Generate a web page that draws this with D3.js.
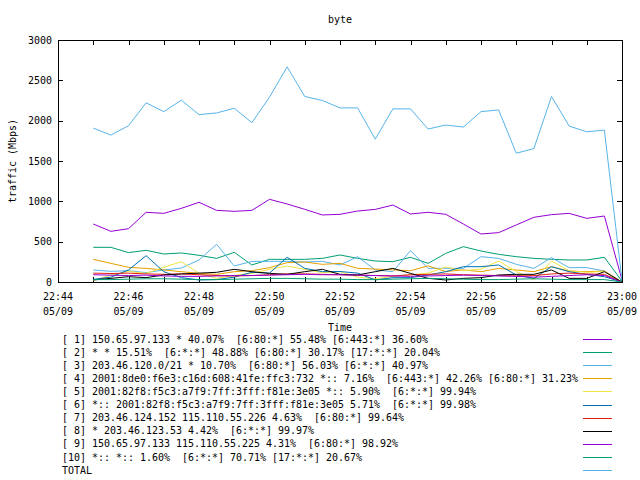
<!DOCTYPE html>
<html><head><meta charset="utf-8">
<script src="https://cdn.jsdelivr.net/npm/d3@7"></script>
<style>
body{margin:0;background:#fff;}
text{font-family:"DejaVu Sans Mono","Liberation Mono",monospace;font-size:10.4px;fill:#000;white-space:pre;}
</style></head><body>
<svg id="c" width="640" height="480"></svg>
<script>
const times = ["22:45:00","22:45:30","22:46:00","22:46:30","22:47:00","22:47:30","22:48:00","22:48:30",
"22:49:00","22:49:30","22:50:00","22:50:30","22:51:00","22:51:30","22:52:00","22:52:30","22:53:00",
"22:53:30","22:54:00","22:54:30","22:55:00","22:55:30","22:56:00","22:56:30","22:57:00","22:57:30",
"22:58:00","22:58:30","22:59:00","22:59:30","23:00:00"];
const xTickLabels = ["22:44","22:46","22:48","22:50","22:52","22:54","22:56","22:58","23:00"];
const xTickMinutes = ["22:44","22:45","22:46","22:47","22:48","22:49","22:50","22:51","22:52","22:53","22:54","22:55","22:56","22:57","22:58","22:59","23:00"];
const dateLabel = "05/09";
const yTicks = [0,500,1000,1500,2000,2500,3000];

const s1 = [719,628,661,864,851,913,988,888,876,888,1025,967,901,831,839,880,900,954,843,864,839,719,595,612,707,802,835,851,789,818,24];
const s2 = [430,430,364,393,347,360,331,293,368,211,281,281,281,293,335,293,260,252,306,231,355,438,384,343,314,293,281,273,273,306,10];
const s3 = [149,132,140,116,149,173,273,467,198,256,256,256,248,256,211,314,149,128,388,169,169,169,314,293,219,169,302,178,178,136,0];
const s4 = [281,231,182,169,149,128,107,95,128,140,178,240,248,219,231,170,160,150,140,200,130,150,128,169,149,128,190,136,128,136,0];
const s5 = [20,83,132,107,182,252,107,45,83,107,157,198,157,116,128,60,40,70,90,110,186,140,160,260,130,25,260,140,120,130,0];
const s6 = [33,60,150,326,128,54,25,30,60,120,110,306,169,128,130,110,25,54,54,87,128,190,190,211,87,45,190,128,95,66,0];
const s7 = [110,105,110,100,95,100,90,80,75,80,90,100,100,95,90,85,80,75,90,95,100,90,85,80,75,80,100,110,100,95,0];
const s8 = [25,45,66,54,87,100,110,120,157,128,107,95,128,157,95,87,128,169,107,45,25,45,54,87,95,95,149,45,45,128,0];
const s9 = [90,85,80,85,75,70,70,75,80,80,85,90,95,90,90,85,80,75,70,75,80,85,80,75,70,60,70,80,90,80,0];
const s10 = [30,30,35,40,40,35,30,30,35,40,45,45,40,35,35,30,30,35,40,45,40,35,30,30,35,40,35,30,30,30,0];
const total = [1908,1821,1937,2221,2112,2254,2075,2096,2154,1975,2292,2667,2300,2250,2158,2158,1771,2146,2146,1896,1946,1921,2112,2133,1596,1654,2300,1933,1862,1883,20];

const legendLabels = [
"[ 1] 150.65.97.133 * 40.07%  [6:80:*] 55.48% [6:443:*] 36.60%",
"[ 2] * * 15.51%  [6:*:*] 48.88% [6:80:*] 30.17% [17:*:*] 20.04%",
"[ 3] 203.46.120.0/21 * 10.70%  [6:80:*] 56.03% [6:*:*] 40.97%",
"[ 4] 2001:8de0:f6e3:c16d:608:41fe:ffc3:732 *:: 7.16%  [6:443:*] 42.26% [6:80:*] 31.23%",
"[ 5] 2001:82f8:f5c3:a7f9:7ff:3fff:f81e:3e05 *:: 5.90%  [6:*:*] 99.94%",
"[ 6] *:: 2001:82f8:f5c3:a7f9:7ff:3fff:f81e:3e05 5.71%  [6:*:*] 99.98%",
"[ 7] 203.46.124.152 115.110.55.226 4.63%  [6:80:*] 99.64%",
"[ 8] * 203.46.123.53 4.42%  [6:*:*] 99.97%",
"[ 9] 150.65.97.133 115.110.55.225 4.31%  [6:80:*] 98.92%",
"[10] *:: *:: 1.60%  [6:*:*] 70.71% [17:*:*] 20.67%",
"TOTAL"];
const colors = ["#9400d3","#009e73","#56b4e9","#e69f00","#f0e442","#0072b2","#e51e10","#000000","#9400d3","#009e73","#56b4e9"];
const seriesList = [s1,s2,s3,s4,s5,s6,s7,s8,s9,s10,total];

const CW = 6; // character cell width
function txt(sel, s){ return sel.text(s).attr("textLength", s.length*CW).attr("lengthAdjust","spacingAndGlyphs"); }

const svg = d3.select("#c");
const L=58, R=622, T=40, B=282;
const parse = d3.timeParse("%Y-%m-%d %H:%M:%S");
const day = "2015-05-09 ";
const x = d3.scaleTime().domain([parse(day+"22:44:00"), parse(day+"23:00:00")]).range([L,R]);
const y = d3.scaleLinear().domain([0,3000]).range([B,T]);

// ticks
const tl = 5;
const g = svg.append("g").attr("shape-rendering","crispEdges").attr("stroke","#000");
yTicks.forEach(v=>{
  const yy = Math.round(y(v))+0.5;
  g.append("line").attr("x1",L).attr("x2",L+tl).attr("y1",yy).attr("y2",yy);
  g.append("line").attr("x1",R-tl).attr("x2",R).attr("y1",yy).attr("y2",yy);
});
xTickMinutes.forEach(m=>{
  const xx = Math.round(x(parse(day+m+":00")))+0.5;
  g.append("line").attr("x1",xx).attr("x2",xx).attr("y1",B).attr("y2",B-tl);
  g.append("line").attr("x1",xx).attr("x2",xx).attr("y1",T).attr("y2",T+tl);
});

// tick labels
yTicks.forEach(v=>{
  txt(svg.append("text").attr("x",52).attr("y",y(v)).attr("dy","0.35em").attr("text-anchor","end"), String(v));
});
xTickLabels.forEach(m=>{
  const xx = x(parse(day+m+":00"));
  txt(svg.append("text").attr("x",xx).attr("y",296).attr("dy","0.35em").attr("text-anchor","middle"), m);
  txt(svg.append("text").attr("x",xx).attr("y",311).attr("dy","0.35em").attr("text-anchor","middle"), dateLabel);
});

// lines
const line = d3.line().x((d,i)=>x(parse(day+times[i]))).y(d=>y(d));
seriesList.forEach((s,i)=>{
  svg.append("path").datum(s).attr("d",line).attr("fill","none").attr("stroke",colors[i]).attr("stroke-width",1);
});

// border
svg.append("rect").attr("x",L+0.5).attr("y",T+0.5).attr("width",R-L).attr("height",B-T)
  .attr("fill","none").attr("stroke","#000").attr("shape-rendering","crispEdges");

// titles
txt(svg.append("text").attr("x",340).attr("y",19).attr("dy","0.35em").attr("text-anchor","middle"), "byte");
txt(svg.append("text").attr("x",340).attr("y",327).attr("dy","0.35em").attr("text-anchor","middle"), "Time");
txt(svg.append("text").attr("transform","translate(12,161) rotate(-90)").attr("dy","0.35em").attr("text-anchor","middle"), "traffic (Mbps)");

// legend
legendLabels.forEach((lab,i)=>{
  const yy = 339 + i*13.1;
  txt(svg.append("text").attr("x",62).attr("y",yy).attr("dy","0.35em").attr("xml:space","preserve"), lab);
  svg.append("line").attr("x1",583).attr("x2",612).attr("y1",Math.round(yy)+0.5).attr("y2",Math.round(yy)+0.5)
    .attr("stroke",colors[i]).attr("shape-rendering","crispEdges");
});
</script></body></html>
